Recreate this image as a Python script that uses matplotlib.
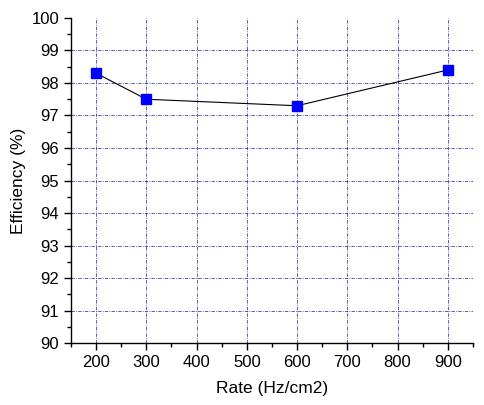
import matplotlib.pyplot as plt
from matplotlib.ticker import MultipleLocator

plt.rcParams['font.family'] = ['Liberation Sans', 'DejaVu Sans']

# data
rate = [200, 300, 600, 900]
efficiency = [98.3, 97.5, 97.3, 98.4]

fig = plt.figure(figsize=(4.84, 4.05), dpi=100)
ax = fig.add_axes([0.1467, 0.153, 0.8303, 0.8026])

ax.plot(rate, efficiency, color='black', lw=0.8, zorder=3)
ax.plot(rate, efficiency, ls='none', marker='s', ms=7.5, mfc='#0000ff',
        mec='#0000ff', zorder=4)

ax.set_xlim(150, 950)
ax.set_ylim(90, 100)
ax.xaxis.set_major_locator(MultipleLocator(100))
ax.xaxis.set_minor_locator(MultipleLocator(50))
ax.yaxis.set_major_locator(MultipleLocator(1))
ax.yaxis.set_minor_locator(MultipleLocator(0.5))

# dash-dot grid at the major ticks, none along the top edge
grid_kw = dict(color='#1c1ca8', ls=(0, (4, 1.5, 1, 1.5)), lw=0.6, alpha=0.85, zorder=1)
for v in ax.get_yticks():
    if 90.5 < v < 99.5:
        ax.axhline(v, **grid_kw)
for v in ax.get_xticks():
    if 160 < v < 940:
        ax.axvline(v, **grid_kw)

for s in ['top', 'right']:
    ax.spines[s].set_visible(False)
for s in ['left', 'bottom']:
    ax.spines[s].set_linewidth(1.0)

ax.tick_params(which='major', direction='out', length=5, width=1.0, labelsize=12)
ax.tick_params(which='minor', direction='out', length=3, width=1.0)

ax.set_xlabel('Rate (Hz/cm2)', fontsize=12.5, labelpad=8)
ax.set_ylabel('Efficiency (%)', fontsize=12.5, labelpad=4)

fig.savefig('out.png', dpi=100)
